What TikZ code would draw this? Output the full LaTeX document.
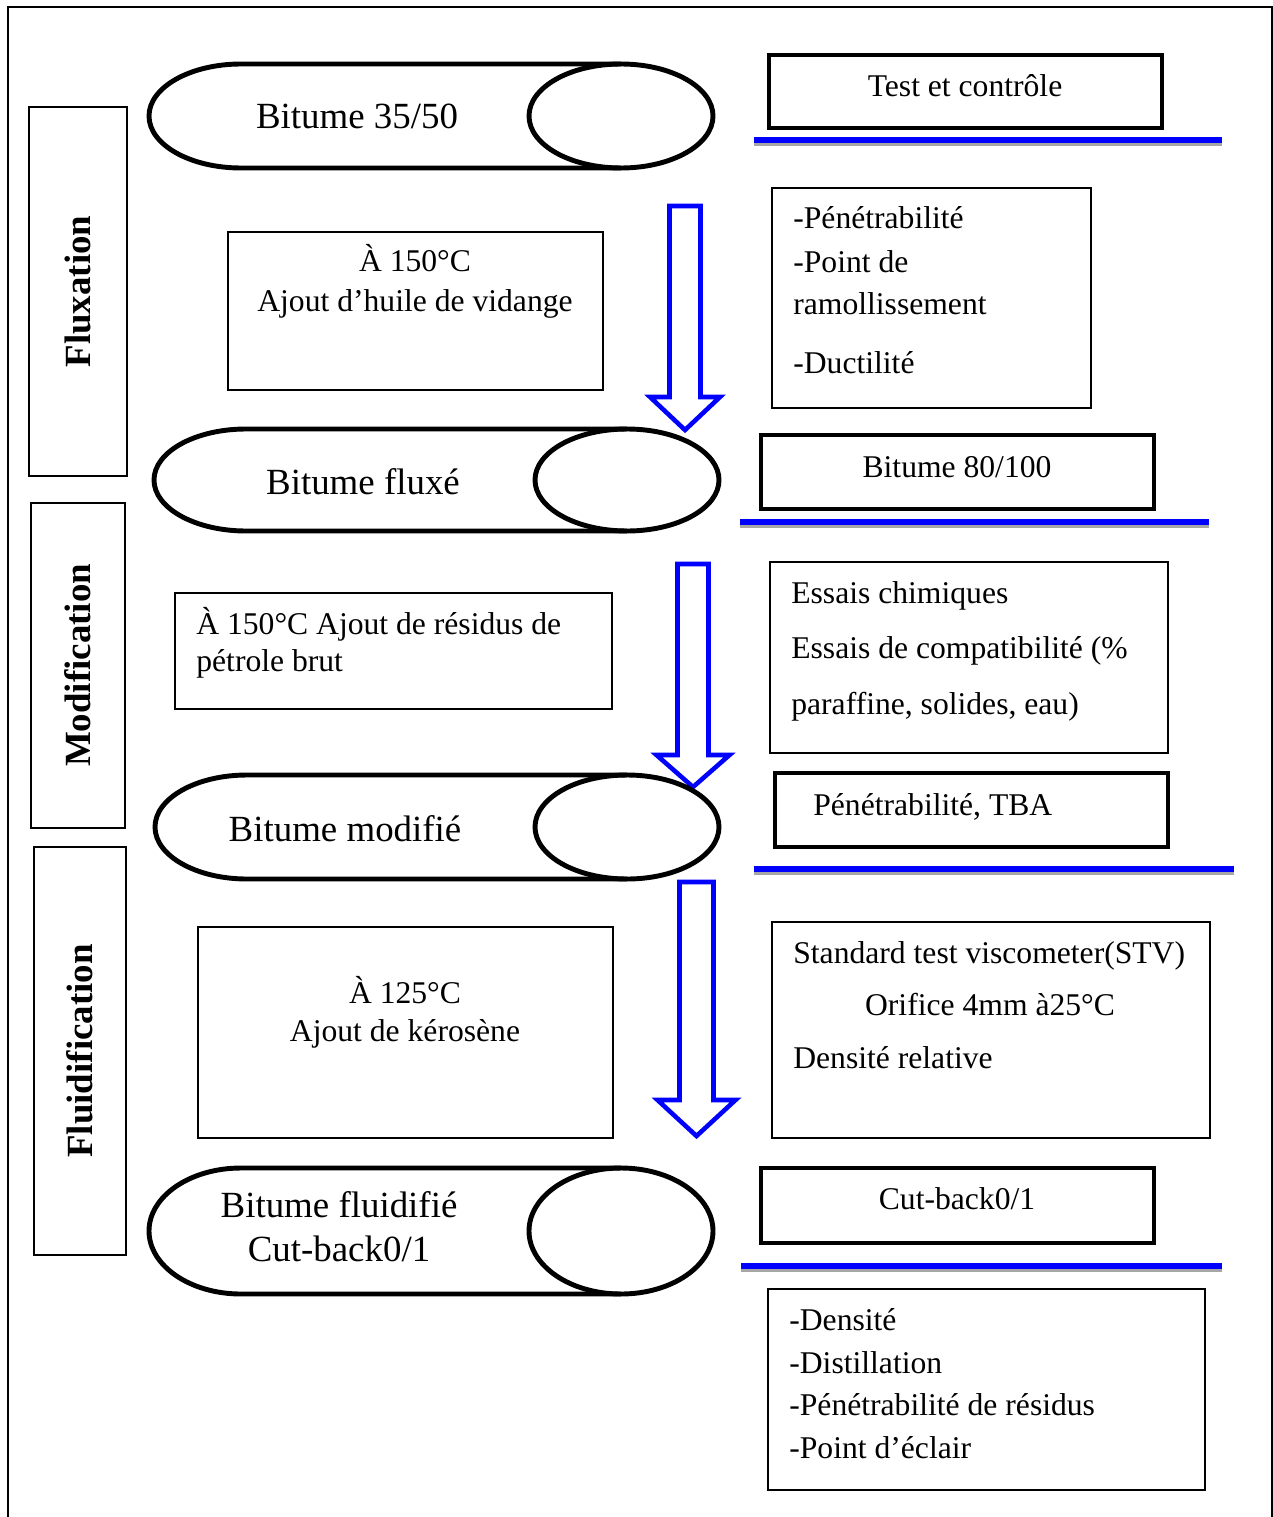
\documentclass[tikz,border=0pt]{standalone}
\usepackage{fontspec}
\setmainfont{Liberation Serif}

\begin{document}
\begin{tikzpicture}[x=0.02cm,y=-0.02cm,
    txt/.style={font=\fontsize{18}{22}\selectfont,inner sep=0pt},
    big/.style={font=\fontsize{21}{25}\selectfont,inner sep=0pt},
    side/.style={font=\bfseries\fontsize{21}{25}\selectfont,rotate=90,inner sep=0pt},
    cyl/.style={line width=2.8pt},
    thickbox/.style={line width=2.4pt},
    thinbox/.style={line width=0.9pt},
    flow/.style={draw=blue,line width=2.6pt,line join=miter},
    rule/.style={blue,line width=3.2pt},
    ruleshadow/.style={black!35,line width=2.4pt}]
% Frame
    \useasboundingbox (0,0) rectangle (1273,1517);
    \draw[thinbox] (8,1530) -- (8,7) -- (1272,7) -- (1272,1530);
% Stages
    \foreach \n/\xa/\xb/\ya/\yb/\t in {1/29/127/107/476/Fluxation,2/31/125/503/828/Modification,3/34/126/847/1255/Fluidification}{
        \draw[thinbox] (\xa,\ya) rectangle (\xb,\yb);
        \node[side] (stage\n) at ({(\xa+\xb)/2},{(\ya+\yb)/2}) {\t};
    }
% Arrows
    \foreach \xc/\ya/\yh/\yt/\w/\h in {685/206/397/430/15.5/35,693/564/755/787/15.5/36.5,696.5/882/1100/1136/17/39}{
        \draw[flow] (\xc-\w,\ya) -- (\xc+\w,\ya) -- (\xc+\w,\yh) -- (\xc+\h,\yh)
            -- (\xc,\yt) -- (\xc-\h,\yh) -- (\xc-\w,\yh) -- cycle;
    }
% Bitumen cylinders
    \foreach \xl/\xe/\yc/\ry in {149/621/116/52,154/627/480/51,155/627/827/52,149/621/1231/63}{
        \draw[cyl] (\xe,\yc-\ry) -- (\xl+92,\yc-\ry)
            arc[start angle=-90,end angle=-270,x radius=92,y radius=\ry] -- (\xe,\yc+\ry);
        \draw[cyl] (\xe,\yc) ellipse[x radius=92,y radius=\ry];
    }
    \node[big,anchor=base] (b3550) at (357,129) {Bitume 35/50};
    \node[big,anchor=base] (bflux) at (363,494) {Bitume fluxé};
    \node[big,anchor=base] (bmod) at (345,841) {Bitume modifié};
    \node[big,anchor=base] (bfluid) at (339,1217) {Bitume fluidifié};
    \node[big,anchor=base] (bcut) at (339,1261) {Cut-back0/1};
% Process steps
    \draw[thinbox] (228,232) rectangle (603,390);
    \node[txt,anchor=base] (p1a) at (415,271) {À 150°C};
    \node[txt,anchor=base] (p1b) at (415,311) {Ajout d’huile de vidange};
    \draw[thinbox] (175,593) rectangle (612,709);
    \node[txt,anchor=base west] (p2a) at (196,634) {À 150°C Ajout de résidus de};
    \node[txt,anchor=base west] (p2b) at (196,671) {pétrole brut};
    \draw[thinbox] (198,927) rectangle (613,1138);
    \node[txt,anchor=base] (p3a) at (405,1003) {À 125°C};
    \node[txt,anchor=base] (p3b) at (405,1041) {Ajout de kérosène};
% Tests
    \foreach \xa/\xb/\y in {754/1222/140,740/1209/522,754/1234/869,741/1222/1266}{
        \draw[ruleshadow] (\xa,\y+4) -- (\xb,\y+4);
        \draw[rule] (\xa,\y) -- (\xb,\y);
    }
    % Grades
    \draw[thickbox] (769,55) rectangle (1162,128);
    \node[txt,anchor=base] (test) at (965,97) {Test et contrôle};
    \draw[thickbox] (761,435) rectangle (1154,509);
    \node[txt,anchor=base] (g80) at (957,477) {Bitume 80/100};
    \draw[thickbox] (775,773) rectangle (1168,847);
    \node[txt,anchor=base west] (gtba) at (813,815) {Pénétrabilité, TBA};
    \draw[thickbox] (761,1168) rectangle (1154,1243);
    \node[txt,anchor=base] (gcut) at (957,1209) {Cut-back0/1};
    % Test lists
    \draw[thinbox] (772,188) rectangle (1091,408);
    \foreach \y/\t in {229/-Pénétrabilité,272/-Point de,314/ramollissement,373/-Ductilité}{
        \node[txt,anchor=base west] (t1-\y) at (793,\y) {\t};
    }
    \draw[thinbox] (770,562) rectangle (1168,753);
    \foreach \y/\t in {603/Essais chimiques,658/Essais de compatibilité (\%,714/{paraffine, solides, eau)}}{
        \node[txt,anchor=base west] (t2-\y) at (791,\y) {\t};
    }
    \draw[thinbox] (772,922) rectangle (1210,1138);
    \node[txt,anchor=base west] (t3a) at (793,963) {Standard test viscometer(STV)};
    \node[txt,anchor=base] (t3b) at (990,1015) {Orifice 4mm à25°C};
    \node[txt,anchor=base west] (t3c) at (793,1068) {Densité relative};
    \draw[thinbox] (768,1289) rectangle (1205,1490);
    \foreach \y/\t in {1330/-Densité,1373/-Distillation,1415/-Pénétrabilité de résidus,1458/-Point d’éclair}{
        \node[txt,anchor=base west] (t4-\y) at (789,\y) {\t};
    }
\end{tikzpicture}
\end{document}
